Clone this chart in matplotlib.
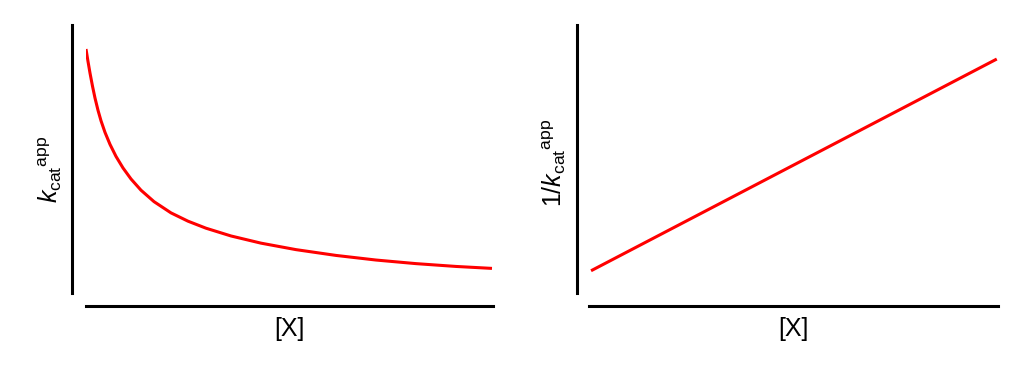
import matplotlib
matplotlib.use('Agg')
import matplotlib.pyplot as plt

# ─── Data (arbitrary units, 0-100 on both axes) ───
# left panel: k_cat^app falling with [X]
curve_x = [0, 0.49, 0.98, 1.60, 2.21, 2.95, 3.69, 4.67, 5.90, 7.37, 9.09,
           11.06, 13.51, 16.71, 20.88, 25.06, 29.48, 35.63, 43.00, 51.60,
           61.43, 71.25, 81.08, 90.91, 99.75]
curve_y = [91.04, 86.42, 82.09, 77.15, 72.76, 68.17, 64.25, 59.93, 55.45,
           50.97, 46.66, 42.54, 38.36, 34.09, 29.90, 26.80, 24.18, 21.28,
           18.60, 16.18, 14.02, 12.30, 10.96, 9.91, 9.18]

# right panel: 1/k_cat^app rising linearly with [X]
line_x = [0.5, 99.7]
line_y = [8.3, 87.3]

x_label = '[X]'
left_ylabel = r'${k_{\mathrm{cat}}}^{\mathrm{app}}$'
right_ylabel = r'$1/{k_{\mathrm{cat}}}^{\mathrm{app}}$'

plt.rcParams['font.family'] = 'Liberation Sans'
plt.rcParams['mathtext.fontset'] = 'custom'
plt.rcParams['mathtext.rm'] = 'Liberation Sans'
plt.rcParams['mathtext.it'] = 'Liberation Sans:italic'

fig = plt.figure(figsize=(10.24, 3.72), dpi=100)

ax1 = fig.add_axes([86 / 1024, 79 / 372, 407 / 1024, 268 / 372])
ax2 = fig.add_axes([589 / 1024, 79 / 372, 409 / 1024, 268 / 372])

ax1.plot(curve_x, curve_y, color='#ff0000', linewidth=2.2,
         solid_capstyle='butt', solid_joinstyle='round')
ax2.plot(line_x, line_y, color='#ff0000', linewidth=2.2, solid_capstyle='butt')

for ax, outward_left in [(ax1, 10.1), (ax2, 8.8)]:
    ax.set_xlim(0, 100)
    ax.set_ylim(0, 100)
    ax.spines['top'].set_visible(False)
    ax.spines['right'].set_visible(False)
    ax.spines['left'].set_position(('outward', outward_left))
    ax.spines['bottom'].set_position(('outward', 9.4))
    ax.spines['left'].set_linewidth(2.2)
    ax.spines['bottom'].set_linewidth(2.2)
    ax.set_xticks([])
    ax.set_yticks([])
    ax.set_xlabel(x_label, fontsize=18)
    ax.xaxis.set_label_coords(0.5, -0.09)
    ax.xaxis.label.set_va('top')

ax1.set_ylabel(left_ylabel, fontsize=18)
ax1.yaxis.set_label_coords(-0.055, 0.462)
ax2.set_ylabel(right_ylabel, fontsize=18)
ax2.yaxis.set_label_coords(-0.051, 0.485)

plt.savefig('out.png', dpi=100)
plt.close()
